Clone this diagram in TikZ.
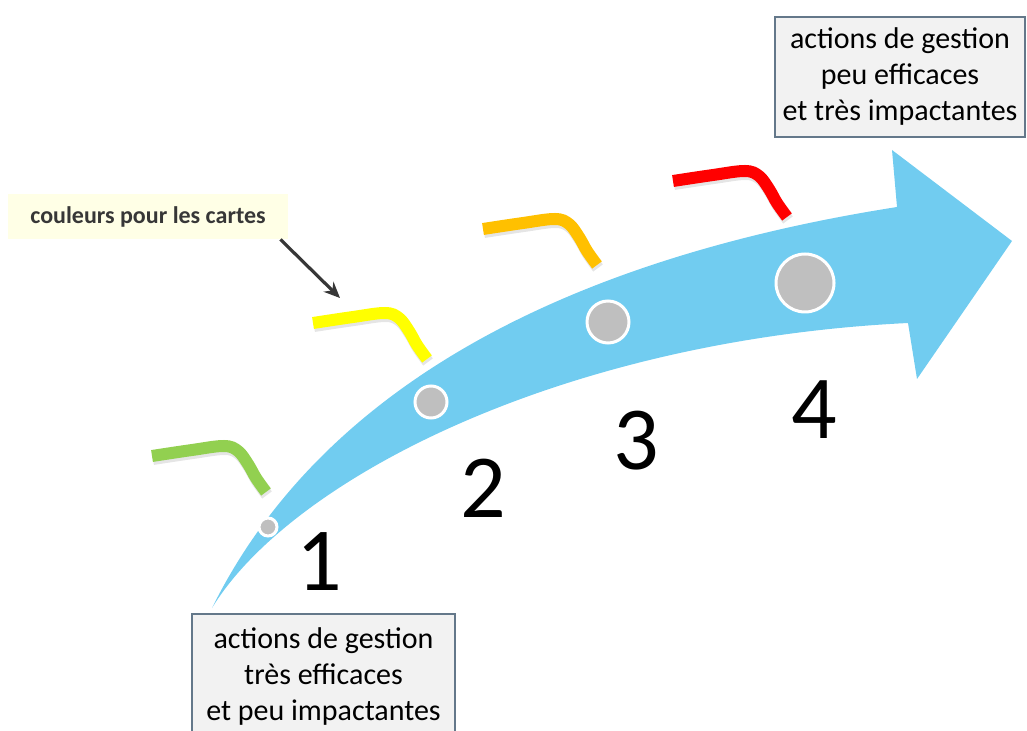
\documentclass[tikz,border=0pt]{standalone}
\usepackage{fontspec}
\setmainfont{Carlito}
\usetikzlibrary{positioning, arrows.meta, calc}
\definecolor{flecheblue}{RGB}{113,204,240}
\definecolor{boxgrey}{RGB}{242,242,242}
\definecolor{boxline}{RGB}{100,120,138}
\definecolor{notecream}{RGB}{255,255,230}
\definecolor{inkdark}{RGB}{55,55,55}
\definecolor{cartegreen}{RGB}{146,208,80}
\definecolor{carteyellow}{RGB}{255,255,0}
\definecolor{carteorange}{RGB}{255,192,0}
\definecolor{cartered}{RGB}{255,0,0}
\newcommand{\carte}[2]{
  \begin{scope}[shift={(#2)}]
    \draw[line width=6pt, black!10, shift={(1,3)}] plot[smooth, tension=0.6] coordinates {(0,0) (40,-6) (72,-10) (86,-5) (96,8) (104,22) (114,36)};
    \draw[line width=6pt, #1] plot[smooth, tension=0.6] coordinates {(0,0) (40,-6) (72,-10) (86,-5) (96,8) (104,22) (114,36)};
  \end{scope}
}

\begin{document}
\begin{tikzpicture}[
    x=0.5pt, y=-0.5pt,
    box/.style={draw=boxline, thick, fill=boxgrey, align=center, font=\fontsize{15}{18}\selectfont, inner sep=0pt},
    note/.style={fill=notecream, text=inkdark, font=\fontsize{12}{14}\selectfont\bfseries, minimum width=140pt, minimum height=22.5pt, inner sep=0pt},
    stage/.style={circle, draw=white, line width=1.5pt, fill=black!25, inner sep=0pt},
    num/.style={font=\fontsize{45}{54}\selectfont, inner sep=0pt},
    pointer/.style={-{Stealth[length=8pt,width=7pt]}, line width=1.6pt, draw=inkdark},
]
\clip (0,0) rectangle (1027,731);

% ------------------------------------------------------------ big arrow ---
\fill[flecheblue] (212,608) .. controls (320,390) and (560,260) .. (897,207)
  -- (892,150) -- (1012,241) -- (917,379) -- (908,323)
  .. controls (560,340) and (290,480) .. (212,608) -- cycle;

% --------------------------------------------------------------- stages ---
\node[stage, minimum size=9pt] (s1) at (268,527) {};
\node[stage, minimum size=16pt] (s2) at (431,402) {};
\node[stage, minimum size=21pt] (s3) at (608,322) {};
\node[stage, minimum size=29pt] (s4) at (805,283) {};

\node[num] (n1) at (319,562) {1};
\node[num] (n2) at (483,488) {2};
\node[num] (n3) at (636,441) {3};
\node[num] (n4) at (814,410) {4};

% ---------------------------------------------------------------- cards ---
\carte{cartegreen}{152,456}
\carte{carteyellow}{313,323}
\carte{carteorange}{483,229}
\carte{cartered}{673,181}

% ---------------------------------------------------------------- notes ---
\node[note] (legende) at (148,216.5) {couleurs pour les cartes};
\coordinate (cible) at (340,298);
\draw[pointer] ([xshift=-4pt]legende.south east) -- (cible);

\node[box, minimum width=125pt, minimum height=60pt] (fort) at (900,77) {actions de gestion\\peu efficaces\\et très impactantes};
\node[box, minimum width=131.5pt, minimum height=62pt] (faible) at (323.5,676) {actions de gestion\\très efficaces\\et peu impactantes};

\end{tikzpicture}
\end{document}
